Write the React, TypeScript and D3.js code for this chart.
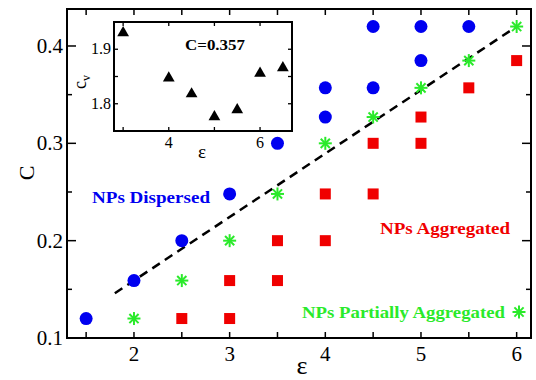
import * as d3 from "d3";

type Pt = [number, number];

// phase diagram points (epsilon, C)
const dispersed: Pt[] = [
  [1.5, 0.12], [2, 0.159], [2.5, 0.2], [3, 0.248], [3.5, 0.3],
  [4, 0.327], [4, 0.357], [4.5, 0.357], [4.5, 0.42], [5, 0.385], [5, 0.42], [5.5, 0.42],
];
const partial: Pt[] = [
  [2, 0.12], [2.5, 0.159], [3, 0.2], [3.5, 0.248], [4, 0.3],
  [4.5, 0.327], [5, 0.357], [5.5, 0.385], [6, 0.42],
];
const aggregated: Pt[] = [
  [2.5, 0.12], [3, 0.12], [3, 0.159], [3.5, 0.159], [3.5, 0.2], [4, 0.2],
  [4, 0.248], [4.5, 0.248], [4.5, 0.3], [5, 0.3], [5, 0.327], [5.5, 0.357], [6, 0.385],
];
const boundary: Pt[] = [[1.8, 0.146], [6, 0.42]];

// inset: specific heat vs epsilon at C=0.357
const insetEps = [3, 4, 4.5, 5, 5.5, 6, 6.5];
const insetCv = [1.93, 1.847, 1.818, 1.776, 1.789, 1.856, 1.866];

const xTicks = [2, 3, 4, 5, 6];
const yTicks = [0.1, 0.2, 0.3, 0.4];
const insetXTicks = [4, 6];
const insetYTicks = [1.8, 1.9];

const BLUE = "#0000f0";
const RED = "#f00000";
const GREEN = "#2aea2a";
const FONT = "'Liberation Serif', 'Times New Roman', serif";

const Star = ({ x, y, r = 6.5 }: { x: number; y: number; r?: number }) => (
  <g transform={`translate(${x},${y})`} stroke={GREEN} strokeWidth={2}>
    {[0, 45, 90, 135].map((a) => {
      const t = (a * Math.PI) / 180;
      return (
        <line key={a} x1={-r * Math.cos(t)} y1={-r * Math.sin(t)} x2={r * Math.cos(t)} y2={r * Math.sin(t)} />
      );
    })}
  </g>
);

export default function App() {
  const left = 67, right = 531, top = 9, bottom = 338;
  const x = d3.scaleLinear().domain([1.3, 6.15]).range([left, right]);
  const y = d3.scaleLinear().domain([0.1, 0.438]).range([bottom, top]);

  const ix0 = 114, ix1 = 292, iy0 = 22, iy1 = 131;
  const ix = d3.scaleLinear().domain([2.8, 6.7]).range([ix0, ix1]);
  const iy = d3.scaleLinear().domain([1.75, 1.95]).range([iy1, iy0]);

  const xMinor = d3.range(1.5, 6.01, 0.5);
  const yMinor = d3.range(0.1, 0.4301, 0.05);
  const tri = d3.symbol().type(d3.symbolTriangle).size(60)()!;
  const line = d3.line<Pt>().x((d) => x(d[0])).y((d) => y(d[1]));

  return (
    <svg width={536} height={380} style={{ position: "absolute", left: 0, top: 0, background: "#fff" }} fontFamily={FONT}>
      {/* ticks, inward on all four sides */}
      <g stroke="#000" strokeWidth={1.5}>
        {xMinor.map((v) => (
          <g key={"x" + v}>
            <line x1={x(v)} x2={x(v)} y1={bottom} y2={bottom - 6} />
            <line x1={x(v)} x2={x(v)} y1={top} y2={top + 6} />
          </g>
        ))}
        {yMinor.map((v) => {
          const major = Math.abs(v * 10 - Math.round(v * 10)) < 1e-6;
          const len = major ? 9 : 5;
          return (
            <g key={"y" + v}>
              <line x1={left} x2={left + len} y1={y(v)} y2={y(v)} />
              <line x1={right} x2={right - len} y1={y(v)} y2={y(v)} />
            </g>
          );
        })}
      </g>
      <rect x={left} y={top} width={right - left} height={bottom - top} fill="none" stroke="#000" strokeWidth={2} />

      {xTicks.map((v) => (
        <text key={v} x={x(v)} y={361} fontSize={21} textAnchor="middle">{v}</text>
      ))}
      {yTicks.map((v) => (
        <text key={v} x={63} y={y(v) + 7} fontSize={21} textAnchor="end">{v.toFixed(1)}</text>
      ))}
      <text x={302} y={374} fontSize={26} textAnchor="middle">ε</text>
      <text transform="translate(34,173) rotate(-90)" fontSize={22} textAnchor="middle">C</text>

      {/* boundary */}
      <path d={line(boundary)!} stroke="#000" strokeWidth={2.5} strokeDasharray="9,6" fill="none" />

      {dispersed.map((d, i) => (
        <circle key={"b" + i} cx={x(d[0])} cy={y(d[1])} r={6.5} fill={BLUE} />
      ))}
      {aggregated.map((d, i) => (
        <rect key={"r" + i} x={x(d[0]) - 5.5} y={y(d[1]) - 5.5} width={11} height={11} fill={RED} />
      ))}
      {partial.map((d, i) => (
        <Star key={"g" + i} x={x(d[0])} y={y(d[1])} />
      ))}

      <text x={92} y={203} fontSize={17} fontWeight="bold" fill={BLUE} textLength={118} lengthAdjust="spacingAndGlyphs">NPs Dispersed</text>
      <text x={380} y={234} fontSize={17} fontWeight="bold" fill={RED} textLength={130} lengthAdjust="spacingAndGlyphs">NPs Aggregated</text>
      <text x={302} y={318} fontSize={17} fontWeight="bold" fill={GREEN} textLength={203} lengthAdjust="spacingAndGlyphs">NPs Partially Aggregated</text>
      <Star x={519} y={312} />

      {/* inset */}
      <rect x={ix0} y={iy0} width={ix1 - ix0} height={iy1 - iy0} fill="#fff" />
      <g stroke="#000" strokeWidth={1.3}>
        {[3, 4, 5, 6].map((v) => (
          <g key={"ix" + v}>
            <line x1={ix(v)} x2={ix(v)} y1={iy1} y2={iy1 - 4} />
            <line x1={ix(v)} x2={ix(v)} y1={iy0} y2={iy0 + 4} />
          </g>
        ))}
        {[1.8, 1.85, 1.9].map((v) => (
          <g key={"iy" + v}>
            <line x1={ix0} x2={ix0 + 4} y1={iy(v)} y2={iy(v)} />
            <line x1={ix1} x2={ix1 - 4} y1={iy(v)} y2={iy(v)} />
          </g>
        ))}
      </g>
      <rect x={ix0} y={iy0} width={ix1 - ix0} height={iy1 - iy0} fill="none" stroke="#000" strokeWidth={2} />
      {insetXTicks.map((v) => (
        <text key={v} x={ix(v)} y={iy1 + 17} fontSize={16} textAnchor="middle">{v}</text>
      ))}
      {insetYTicks.map((v) => (
        <text key={v} x={ix0 - 3} y={iy(v) + 5} fontSize={16} textAnchor="end">{v.toFixed(1)}</text>
      ))}
      <text x={202} y={158} fontSize={19} textAnchor="middle">ε</text>
      <text transform="translate(86,82) rotate(-90)" fontSize={18} textAnchor="middle">
        c<tspan fontSize={12} dy={4}>v</tspan>
      </text>
      <text x={185} y={50} fontSize={15} fontWeight="bold" textLength={60} lengthAdjust="spacingAndGlyphs">C=0.357</text>
      {insetEps.map((e, i) => (
        <path key={"t" + i} d={tri} transform={`translate(${ix(e)},${iy(insetCv[i])})`} fill="#000" />
      ))}
    </svg>
  );
}
